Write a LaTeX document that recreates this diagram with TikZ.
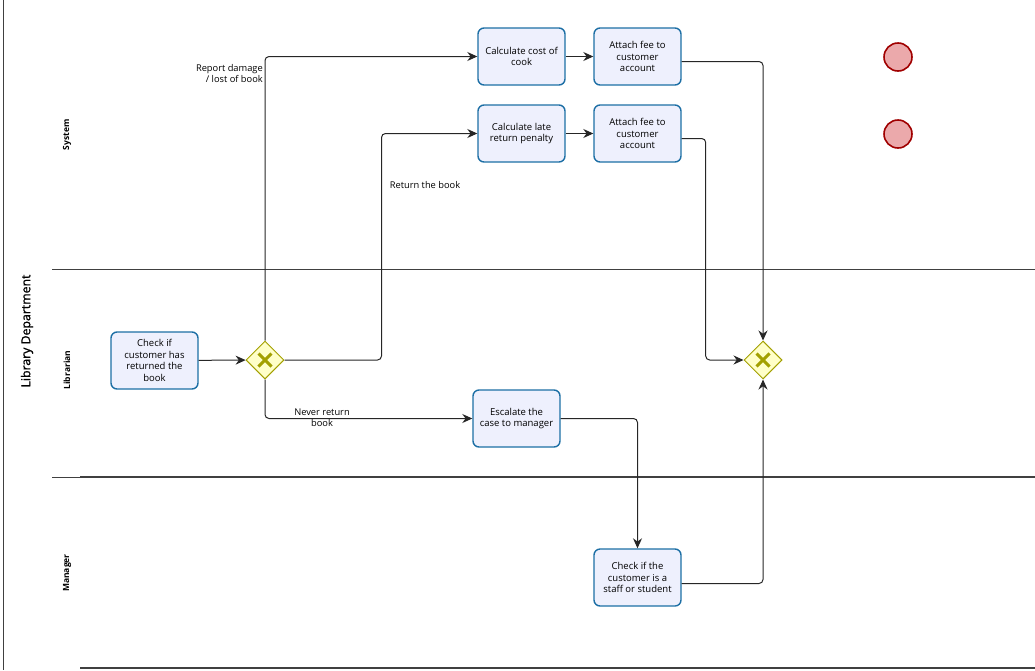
\documentclass[tikz,border=0pt]{standalone}
\usepackage{fontspec}
\setmainfont{Open Sans}
\newfontfamily\pooltitlefont[FakeBold=1.2]{Open Sans}
\usetikzlibrary{shapes.geometric,arrows.meta,calc}
\definecolor{taskfill}{HTML}{EEF0FD}
\definecolor{taskline}{HTML}{1D6FA5}
\definecolor{gwfill}{HTML}{FFFFC8}
\definecolor{gwline}{HTML}{A3A000}
\definecolor{endfill}{HTML}{EBA9AB}
\definecolor{endline}{HTML}{A00000}
\tikzset{
  task/.style={draw=taskline, fill=taskfill, line width=1.4pt, rounded corners=6pt,
    minimum width=87pt, minimum height=57pt, align=center, inner sep=2pt,
    font=\fontsize{9.5}{11.5}\selectfont},
  gateway/.style={diamond, draw=gwline, fill=gwfill, line width=1pt, aspect=1,
    minimum width=38pt, minimum height=38pt, inner sep=0pt,
    path picture={\draw[gwline, line width=3pt] ($(path picture bounding box.center)+(-6.5pt,-6.5pt)$) -- ($(path picture bounding box.center)+(6.5pt,6.5pt)$)
      ($(path picture bounding box.center)+(-6.5pt,6.5pt)$) -- ($(path picture bounding box.center)+(6.5pt,-6.5pt)$);}},
  endevent/.style={circle, draw=endline, fill=endfill, line width=1.6pt, minimum size=28pt, inner sep=0pt},
  flow/.style={draw=black!85, line width=1pt, rounded corners=4pt, -{Stealth[length=10pt,width=9pt]}},
  flowlabel/.style={font=\fontsize{9.3}{11}\selectfont, align=center, inner sep=0pt},
  lanelabel/.style={font=\bfseries\fontsize{8.5}{9}\selectfont, rotate=90},
  laneline/.style={draw=black!75, line width=0.8pt}
}
\begin{document}
\begin{tikzpicture}[x=1pt,y=-1pt]
\useasboundingbox (0,0) rectangle (1035,670);
% pool and lanes
\draw[black!75, line width=1pt] (3,0) -- (3,670);
\draw[laneline] (52,269) -- (1035,269);
\draw[laneline] (52,477) -- (80,477);
\draw[laneline, line width=1.2pt] (80,477) -- (1035,477);
\draw[laneline, line width=1.2pt] (80,668) -- (1035,668);
\node[font=\pooltitlefont\fontsize{12.3}{14}\selectfont, rotate=90] (pool) at (27,331) {Library Department};
\node[lanelabel] (lsys) at (67,135) {System};
\node[lanelabel] (llib) at (67,370) {Librarian};
\node[lanelabel] (lman) at (67,573) {Manager};
% tasks
\node[task] (cost) at (521.5,56.5) {Calculate cost of\\cook};
\node[task] (att1) at (637.5,56.5) {Attach fee to\\customer\\account};
\node[task] (late) at (521.5,133.5) {Calculate late\\return penalty};
\node[task] (att2) at (637.5,133.5) {Attach fee to\\customer\\account};
\node[task] (chk) at (154.5,360.5) {Check if\\customer has\\returned the\\book};
\node[task] (esc) at (516.5,418.5) {Escalate the\\case to manager};
\node[task] (staff) at (637.5,577.5) {Check if the\\customer is a\\staff or student};
% gateways
\node[gateway] (gw1) at (265,360) {};
\node[gateway] (gw2) at (763,360) {};
% end events
\node[endevent] (end1) at (898,57) {};
\node[endevent] (end2) at (898,134) {};
% flows
\draw[flow] (chk) -- (gw1);
\draw[flow] (gw1.north) |- (cost.west);
\draw[flow] (gw1.east) -- ++(97,0) |- (late.west);
\draw[flow] (gw1.south) |- (esc.west);
\draw[flow] (cost) -- (att1);
\draw[flow] (late) -- (att2);
\draw[flow] ([yshift=-5pt]att1.east) -| (gw2.north);
\draw[flow] ([yshift=-5pt]att2.east) -- ++(24,0) |- (gw2.west);
\draw[flow] (esc.east) -| (staff.north);
\draw[flow] ([yshift=-6pt]staff.east) -| (gw2.south);
% flow labels
\node[flowlabel, align=right, anchor=north east] (lbl1) at (263,64) {Report damage\\/ lost of book};
\node[flowlabel] (lbl2) at (425,185) {Return the book};
\node[flowlabel] (lbl3) at (322,418) {Never return\\book};
\end{tikzpicture}
\end{document}
